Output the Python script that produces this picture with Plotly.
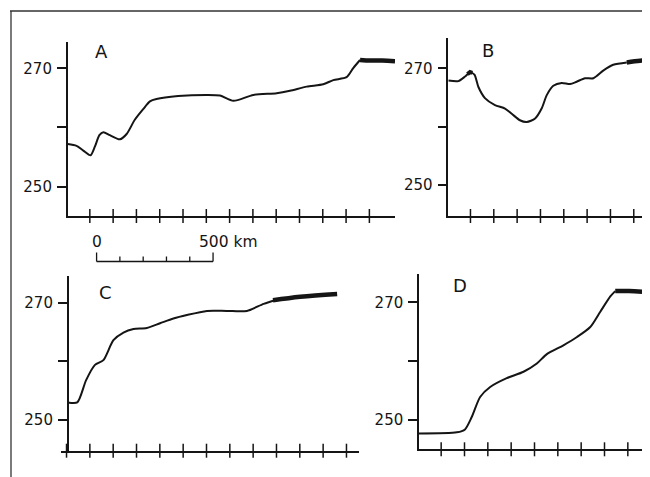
import plotly.graph_objects as go

# the page body adds an 8 px margin, so the figure is 8 px smaller and all
# reference pixel positions are shifted by that offset
OFF = 8
W, H = 650 - OFF, 477 - OFF

# ---------------- data (distance in km, temperature in K) ----------------
A_km = [0, 38, 67, 98, 117, 136, 153, 181, 224, 253, 288, 324, 353, 381, 474, 597, 654, 711, 797, 897, 954, 1026, 1097, 1140, 1197, 1225, 1255]
A_T = [257.2, 256.9, 256.1, 255.3, 256.8, 258.7, 259.2, 258.7, 258.0, 258.9, 261.3, 263.1, 264.4, 264.8, 265.3, 265.5, 265.4, 264.5, 265.5, 265.8, 266.2, 266.9, 267.3, 268.0, 268.5, 270.0, 271.4]
A_bold_km = [1255, 1300, 1350, 1405]
A_bold_T = [271.4, 271.3, 271.3, 271.2]

B_km = [0, 43, 72, 93, 112, 129, 157, 200, 243, 272, 307, 336, 372, 400, 422, 450, 486, 522, 550, 586, 622, 664, 707, 765]
B_T = [267.9, 267.8, 268.6, 269.3, 268.9, 266.8, 264.9, 263.7, 263.1, 262.2, 261.1, 260.8, 261.4, 263.1, 265.4, 267.0, 267.5, 267.3, 267.7, 268.3, 268.3, 269.6, 270.6, 271.0]
B_bump_km = [82, 93, 103]
B_bump_T = [269.0, 269.35, 269.2]
B_bold_km = [765, 822, 866]
B_bold_T = [271.0, 271.3, 271.3]

C_km = [0, 41, 79, 117, 153, 196, 239, 282, 339, 396, 453, 511, 597, 682, 768, 840, 897]
C_T = [253.0, 253.0, 256.8, 259.4, 260.2, 263.6, 264.9, 265.5, 265.7, 266.5, 267.3, 267.9, 268.6, 268.6, 268.6, 269.8, 270.5]
C_bold_km = [880, 997, 1155]
C_bold_T = [270.4, 271.0, 271.5]

D_km = [0, 162, 197, 226, 262, 305, 376, 448, 505, 548, 619, 677, 734, 777, 820, 841]
D_T = [247.7, 247.9, 248.4, 250.5, 253.9, 255.6, 257.1, 258.2, 259.6, 261.2, 262.7, 264.1, 265.8, 268.4, 271.0, 271.9]
D_bold_km = [841, 900, 956]
D_bold_T = [271.9, 271.9, 271.8]

A_ticks = [95, 195, 295, 395, 495, 595, 695, 795, 895, 995, 1095, 1195, 1295]
B_ticks = [95, 195, 295, 395, 495, 595, 695, 795]
C_ticks = [-5, 95, 195, 295, 395, 495, 595, 695, 795, 895, 995, 1095, 1195]
D_ticks = [95, 195, 295, 395, 495, 595, 695, 795, 895]

y_tickvals = [250, 260, 270]
y_ticktext = ["250", "", "270"]

panel_labels = ["A", "B", "C", "D"]
scale_ticks_km = [0, 100, 200, 300, 400, 500]

INK = "#151515"
FONT = "DejaVu Sans"


def px_x(p):
    return (p - OFF) / W


def px_y(p):
    return 1 - (p - OFF) / H


fig = go.Figure()

panels = [
    ("", A_km, A_T, [(A_bold_km, A_bold_T, 4.5, "spline")], A_ticks, (67.7, 395), (42, 216), [0, 1405], [245.05, 274.44], None, (146, 272.8)),
    ("2", B_km, B_T, [(B_bump_km, B_bump_T, 4, "linear"), (B_bold_km, B_bold_T, 4.5, "spline")], B_ticks, (448.3, 650), (38.3, 216), [0, 864.5], [244.69, 275.14], None, (171, 273.1)),
    ("3", C_km, C_T, [(C_bold_km, C_bold_T, 4.5, "spline")], C_ticks, (61, 359.3), (275.7, 450.7), [-28.7, 1250], [244.77, 274.6], 67.7, (160, 271.8)),
    ("4", D_km, D_T, [(D_bold_km, D_bold_T, 4.5, "spline")], D_ticks, (419, 650), (274, 449.3), [0, 990], [245.02, 274.81], None, (177, 272.9)),
]

annotations = []
shapes = []

for i, (sfx, xs, ys, bolds, ticks, xd, yd, xr, yr, ypos, lab) in enumerate(panels):
    xa = "x" + sfx
    ya = "y" + sfx
    fig.add_trace(go.Scatter(x=xs, y=ys, mode="lines", xaxis=xa, yaxis=ya,
                             line=dict(color=INK, width=2, shape="spline", smoothing=0.7),
                             showlegend=False, hoverinfo="skip"))
    for bx, by, bw, bshape in bolds:
        fig.add_trace(go.Scatter(x=bx, y=by, mode="lines", xaxis=xa, yaxis=ya,
                                 line=dict(color=INK, width=bw, shape=bshape),
                                 showlegend=False, hoverinfo="skip"))
    fig.add_trace(go.Scatter(x=ticks, y=[yr[0]] * len(ticks), mode="markers", xaxis=xa, yaxis=ya,
                             marker=dict(symbol="line-ns", size=10, line=dict(color=INK, width=1.5)),
                             cliponaxis=False, showlegend=False, hoverinfo="skip"))
    xkey = "xaxis" + sfx
    ykey = "yaxis" + sfx
    fig.layout[xkey] = dict(domain=[px_x(xd[0]), min(1.0, px_x(xd[1]))], range=xr, anchor=ya,
                            showline=True, linecolor=INK, linewidth=1.5, ticks="",
                            showticklabels=False, showgrid=False, zeroline=False)
    ydict = dict(domain=[px_y(yd[1]), px_y(yd[0])], range=yr,
                 showline=True, linecolor=INK, linewidth=1.5, ticks="outside", ticklen=9,
                 tickwidth=1.5, tickcolor=INK, tickvals=y_tickvals, ticktext=y_ticktext,
                 tickfont=dict(family=FONT, size=15, color=INK), ticklabelstandoff=2,
                 showgrid=False, zeroline=False)
    if ypos is None:
        ydict["anchor"] = xa
    else:
        ydict["anchor"] = "free"
        ydict["position"] = px_x(ypos)
    fig.layout[ykey] = ydict
    annotations.append(dict(x=lab[0], y=lab[1], xref=xa, yref=ya, text=panel_labels[i],
                            showarrow=False, font=dict(family=FONT, size=18, color=INK)))

# scale bar drawn on panel A's distance axis
sb0 = 124
bar_y = px_y(261.5)
shapes.append(dict(type="line", xref="x", yref="paper", x0=sb0 + scale_ticks_km[0], x1=sb0 + scale_ticks_km[-1],
                   y0=bar_y, y1=bar_y, line=dict(color=INK, width=1.3)))
for k in scale_ticks_km:
    top = px_y(252.5) if k in (scale_ticks_km[0], scale_ticks_km[-1]) else px_y(256.5)
    shapes.append(dict(type="line", xref="x", yref="paper", x0=sb0 + k, x1=sb0 + k,
                       y0=bar_y, y1=top, line=dict(color=INK, width=1.3)))
annotations.append(dict(x=sb0 + scale_ticks_km[0], y=px_y(241.5), xref="x", yref="paper", text="0",
                        showarrow=False, font=dict(family=FONT, size=15.5, color=INK)))
annotations.append(dict(x=sb0 + scale_ticks_km[-1], y=px_y(241.5), xref="x", yref="paper", text="500 km",
                        xanchor="left", xshift=-16, showarrow=False,
                        font=dict(family=FONT, size=15.5, color=INK)))

# frame of the scanned figure
shapes.append(dict(type="line", xref="paper", yref="paper", x0=px_x(10), x1=1, y0=px_y(11), y1=px_y(11),
                   line=dict(color="#333", width=1.3)))
shapes.append(dict(type="line", xref="paper", yref="paper", x0=px_x(11), x1=px_x(11), y0=0, y1=px_y(11),
                   line=dict(color="#333", width=1.3)))

fig.update_layout(width=W, height=H, margin=dict(l=0, r=0, t=0, b=0),
                  paper_bgcolor="white", plot_bgcolor="white",
                  annotations=annotations, shapes=shapes)

fig.write_html("out.html")
